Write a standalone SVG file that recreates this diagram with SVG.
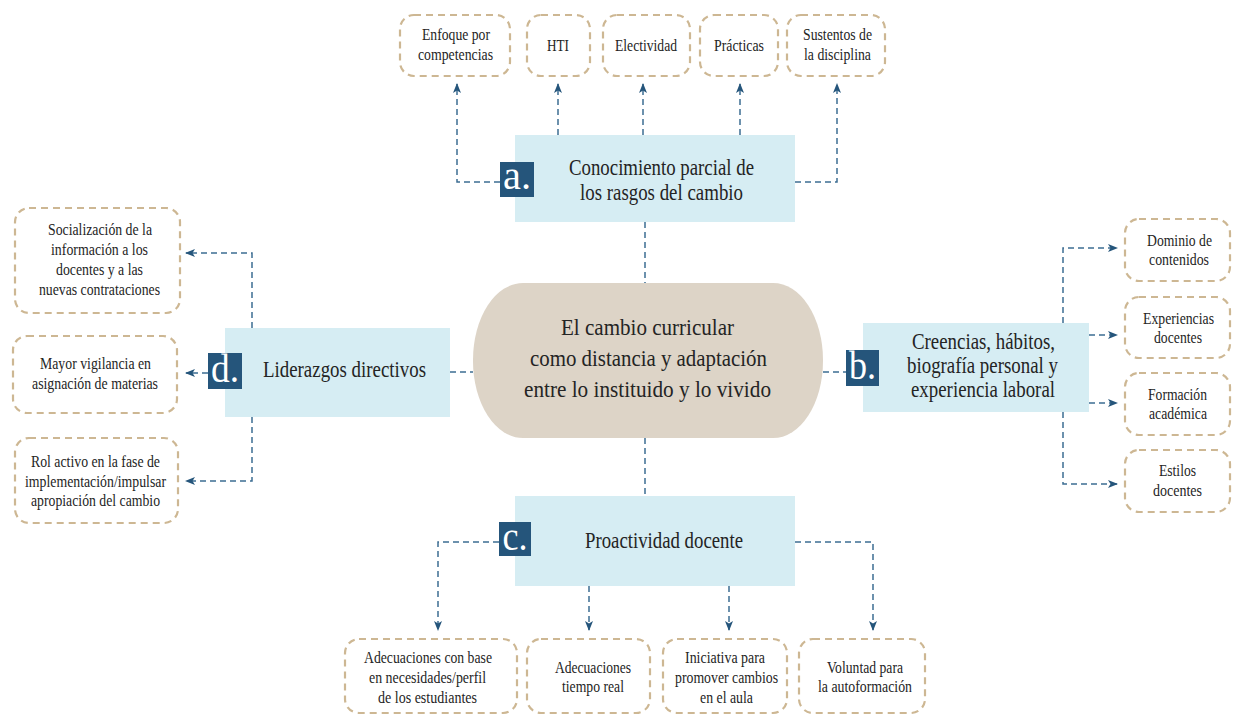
<svg xmlns="http://www.w3.org/2000/svg" width="1233" height="715" viewBox="0 0 1233 715">
  <defs>
    <style>
      .leaf { fill: #ffffff; stroke: #cdb793; stroke-width: 2.2; stroke-dasharray: 7 5; }
      .main { fill: #d6edf3; }
      .badge { fill: #25557b; }
      .hub { fill: #ddd4c7; }
      .link { fill: none; stroke: #3d6d93; stroke-width: 1.5; stroke-dasharray: 6 4; }
      .t { font-family: "Liberation Serif", "Times New Roman", serif; fill: #242424; text-anchor: middle; }
      .s { font-size: 16.5px; }
      .m { font-size: 23px; }
      .h { font-size: 24px; }
      .bl { font-family: "Liberation Serif", "Times New Roman", serif; fill: #ffffff; font-size: 40px; text-anchor: middle; }
    </style>
    <marker id="arrow" markerWidth="10" markerHeight="10" refX="9" refY="5" orient="auto" markerUnits="userSpaceOnUse">
      <path d="M0,1 L10,5 L0,9 L2.5,5 Z" fill="#25557b"/>
    </marker>
  </defs>

  <rect width="1233" height="715" fill="#ffffff"/>

  <!-- dashed links between the blocks -->
  <g id="connectors">
    <!-- a -->
    <path class="link" d="M500 182 H457 V84" marker-end="url(#arrow)"/>
    <path class="link" d="M558 135 V84" marker-end="url(#arrow)"/>
    <path class="link" d="M643 135 V84" marker-end="url(#arrow)"/>
    <path class="link" d="M740 135 V84" marker-end="url(#arrow)"/>
    <path class="link" d="M795 182 H837 V84" marker-end="url(#arrow)"/>
    <path class="link" d="M645 222 V283"/>
    <!-- d -->
    <path class="link" d="M252 328 V253 H186" marker-end="url(#arrow)"/>
    <path class="link" d="M208 373 H186" marker-end="url(#arrow)"/>
    <path class="link" d="M252 417 V481 H186" marker-end="url(#arrow)"/>
    <path class="link" d="M450 372 H473"/>
    <!-- b -->
    <path class="link" d="M823 372 H846"/>
    <path class="link" d="M1063 323 V248 H1117" marker-end="url(#arrow)"/>
    <path class="link" d="M1089 335 H1117" marker-end="url(#arrow)"/>
    <path class="link" d="M1089 403 H1117" marker-end="url(#arrow)"/>
    <path class="link" d="M1063 412 V484 H1117" marker-end="url(#arrow)"/>
    <!-- c -->
    <path class="link" d="M645 438 V496"/>
    <path class="link" d="M499 542 H438 V630" marker-end="url(#arrow)"/>
    <path class="link" d="M589 586 V630" marker-end="url(#arrow)"/>
    <path class="link" d="M729 586 V630" marker-end="url(#arrow)"/>
    <path class="link" d="M795 542 H873 V630" marker-end="url(#arrow)"/>
  </g>

  <!-- central idea -->
  <g id="hub">
    <rect class="hub" x="473" y="283" width="350" height="155" rx="50" ry="77"/>
    <text class="t h" x="647.5" y="335" textLength="173" lengthAdjust="spacingAndGlyphs">El cambio curricular</text>
    <text class="t h" x="648.5" y="366" textLength="237" lengthAdjust="spacingAndGlyphs">como distancia y adaptación</text>
    <text class="t h" x="647.5" y="397" textLength="247" lengthAdjust="spacingAndGlyphs">entre lo instituido y lo vivido</text>
  </g>

  <!-- a. -->
  <g id="node-a">
    <rect class="main" x="515" y="135" width="280" height="87"/>
    <rect class="badge" x="500" y="162" width="34" height="35"/>
    <text class="bl" x="517" y="189" textLength="28" lengthAdjust="spacingAndGlyphs">a.</text>
    <text class="t m" x="661.5" y="175" textLength="185" lengthAdjust="spacingAndGlyphs">Conocimiento parcial de</text>
    <text class="t m" x="661.5" y="200" textLength="163" lengthAdjust="spacingAndGlyphs">los rasgos del cambio</text>
  </g>
  <g id="a1">
    <rect class="leaf" x="400" y="15" width="110" height="61" rx="14"/>
    <text class="t s" x="456" y="40" textLength="68" lengthAdjust="spacingAndGlyphs">Enfoque por</text>
    <text class="t s" x="455.5" y="60" textLength="75" lengthAdjust="spacingAndGlyphs">competencias</text>
  </g>
  <g id="a2">
    <rect class="leaf" x="527" y="15" width="63" height="61" rx="14"/>
    <text class="t s" x="558" y="51" textLength="22" lengthAdjust="spacingAndGlyphs">HTI</text>
  </g>
  <g id="a3">
    <rect class="leaf" x="603" y="15" width="87" height="61" rx="14"/>
    <text class="t s" x="646" y="51" textLength="62" lengthAdjust="spacingAndGlyphs">Electividad</text>
  </g>
  <g id="a4">
    <rect class="leaf" x="700" y="15" width="78" height="61" rx="14"/>
    <text class="t s" x="739" y="51" textLength="50" lengthAdjust="spacingAndGlyphs">Prácticas</text>
  </g>
  <g id="a5">
    <rect class="leaf" x="787" y="15" width="98" height="61" rx="14"/>
    <text class="t s" x="837.5" y="40" textLength="69" lengthAdjust="spacingAndGlyphs">Sustentos de</text>
    <text class="t s" x="837.5" y="60" textLength="67" lengthAdjust="spacingAndGlyphs">la disciplina</text>
  </g>

  <!-- b. -->
  <g id="node-b">
    <rect class="main" x="863" y="323" width="226" height="89"/>
    <rect class="badge" x="846" y="350" width="33" height="36"/>
    <text class="bl" x="862.5" y="379" textLength="27" lengthAdjust="spacingAndGlyphs">b.</text>
    <text class="t m" x="983.5" y="349" textLength="143" lengthAdjust="spacingAndGlyphs">Creencias, hábitos,</text>
    <text class="t m" x="982.5" y="373" textLength="151" lengthAdjust="spacingAndGlyphs">biografía personal y</text>
    <text class="t m" x="983" y="397" textLength="144" lengthAdjust="spacingAndGlyphs">experiencia laboral</text>
  </g>
  <g id="b1">
    <rect class="leaf" x="1125" y="219" width="105" height="62" rx="14"/>
    <text class="t s" x="1179.5" y="246" textLength="65" lengthAdjust="spacingAndGlyphs">Dominio de</text>
    <text class="t s" x="1179" y="265" textLength="60" lengthAdjust="spacingAndGlyphs">contenidos</text>
  </g>
  <g id="b2">
    <rect class="leaf" x="1125" y="297" width="105" height="61" rx="14"/>
    <text class="t s" x="1178.5" y="324" textLength="71" lengthAdjust="spacingAndGlyphs">Experiencias</text>
    <text class="t s" x="1178" y="343" textLength="48" lengthAdjust="spacingAndGlyphs">docentes</text>
  </g>
  <g id="b3">
    <rect class="leaf" x="1125" y="373" width="105" height="62" rx="14"/>
    <text class="t s" x="1177.5" y="400" textLength="59" lengthAdjust="spacingAndGlyphs">Formación</text>
    <text class="t s" x="1178" y="419" textLength="58" lengthAdjust="spacingAndGlyphs">académica</text>
  </g>
  <g id="b4">
    <rect class="leaf" x="1125" y="450" width="105" height="62" rx="14"/>
    <text class="t s" x="1177.5" y="476" textLength="37" lengthAdjust="spacingAndGlyphs">Estilos</text>
    <text class="t s" x="1177.5" y="496" textLength="49" lengthAdjust="spacingAndGlyphs">docentes</text>
  </g>

  <!-- c. -->
  <g id="node-c">
    <rect class="main" x="515" y="496" width="280" height="90"/>
    <rect class="badge" x="499" y="522" width="32" height="34"/>
    <text class="bl" x="515" y="550" textLength="25" lengthAdjust="spacingAndGlyphs">c.</text>
    <text class="t m" x="664" y="548" textLength="158" lengthAdjust="spacingAndGlyphs">Proactividad docente</text>
  </g>
  <g id="c1">
    <rect class="leaf" x="345" y="639" width="172" height="74" rx="14"/>
    <text class="t s" x="428" y="663" textLength="128" lengthAdjust="spacingAndGlyphs">Adecuaciones con base</text>
    <text class="t s" x="427.5" y="683" textLength="117" lengthAdjust="spacingAndGlyphs">en necesidades/perfil</text>
    <text class="t s" x="427.5" y="703" textLength="99" lengthAdjust="spacingAndGlyphs">de los estudiantes</text>
  </g>
  <g id="c2">
    <rect class="leaf" x="527" y="639" width="123" height="74" rx="14"/>
    <text class="t s" x="593" y="673" textLength="76" lengthAdjust="spacingAndGlyphs">Adecuaciones</text>
    <text class="t s" x="593" y="692" textLength="62" lengthAdjust="spacingAndGlyphs">tiempo real</text>
  </g>
  <g id="c3">
    <rect class="leaf" x="663" y="639" width="124" height="74" rx="14"/>
    <text class="t s" x="725" y="663" textLength="80" lengthAdjust="spacingAndGlyphs">Iniciativa para</text>
    <text class="t s" x="726.5" y="683" textLength="103" lengthAdjust="spacingAndGlyphs">promover cambios</text>
    <text class="t s" x="726.5" y="703" textLength="53" lengthAdjust="spacingAndGlyphs">en el aula</text>
  </g>
  <g id="c4">
    <rect class="leaf" x="799" y="639" width="126" height="74" rx="14"/>
    <text class="t s" x="865" y="673" textLength="76" lengthAdjust="spacingAndGlyphs">Voluntad para</text>
    <text class="t s" x="865" y="692" textLength="94" lengthAdjust="spacingAndGlyphs">la autoformación</text>
  </g>

  <!-- d. -->
  <g id="node-d">
    <rect class="main" x="225" y="328" width="225" height="89"/>
    <rect class="badge" x="208" y="353" width="34" height="36"/>
    <text class="bl" x="225" y="382" textLength="28" lengthAdjust="spacingAndGlyphs">d.</text>
    <text class="t m" x="344.5" y="377" textLength="163" lengthAdjust="spacingAndGlyphs">Liderazgos directivos</text>
  </g>
  <g id="d1">
    <rect class="leaf" x="15" y="208" width="165" height="105" rx="14"/>
    <text class="t s" x="100" y="235" textLength="104" lengthAdjust="spacingAndGlyphs">Socialización de la</text>
    <text class="t s" x="99.5" y="255" textLength="97" lengthAdjust="spacingAndGlyphs">información a los</text>
    <text class="t s" x="99.5" y="275" textLength="87" lengthAdjust="spacingAndGlyphs">docentes y a las</text>
    <text class="t s" x="99.5" y="295" textLength="121" lengthAdjust="spacingAndGlyphs">nuevas contrataciones</text>
  </g>
  <g id="d2">
    <rect class="leaf" x="13" y="336" width="164" height="77" rx="14"/>
    <text class="t s" x="95.5" y="369" textLength="111" lengthAdjust="spacingAndGlyphs">Mayor vigilancia en</text>
    <text class="t s" x="95" y="389" textLength="126" lengthAdjust="spacingAndGlyphs">asignación de materias</text>
  </g>
  <g id="d3">
    <rect class="leaf" x="15" y="438" width="163" height="85" rx="14"/>
    <text class="t s" x="95.5" y="467" textLength="129" lengthAdjust="spacingAndGlyphs">Rol activo en la fase de</text>
    <text class="t s" x="95.5" y="487" textLength="141" lengthAdjust="spacingAndGlyphs">implementación/impulsar</text>
    <text class="t s" x="95.5" y="506" textLength="129" lengthAdjust="spacingAndGlyphs">apropiación del cambio</text>
  </g>
</svg>
